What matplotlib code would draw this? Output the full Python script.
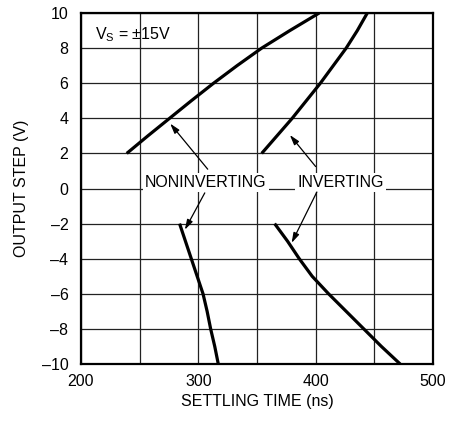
import matplotlib.pyplot as plt
from matplotlib import font_manager

# settling time (ns) vs output step (V)
noninv_pos_t = [239, 257, 275.5, 294, 313, 333, 354, 378, 403]
noninv_pos_v = [2, 3, 4, 5, 6, 7, 8, 9, 10]
noninv_neg_t = [284, 289, 294, 299, 304, 307.5, 310.5, 314, 317]
noninv_neg_v = [-2, -3, -4, -5, -6, -7, -8, -9, -10]
inv_pos_t = [354, 367, 380, 392, 404, 415, 426, 435.5, 444]
inv_pos_v = [2, 3, 4, 5, 6, 7, 8, 9, 10]
inv_neg_t = [365, 376, 386, 397, 411, 426, 441, 456, 472]
inv_neg_v = [-2, -3, -4, -5, -6, -7, -8, -9, -10]

xticks = [200, 300, 400, 500]
yticks = [-10, -8, -6, -4, -2, 0, 2, 4, 6, 8, 10]

names = {f.name for f in font_manager.fontManager.ttflist}
family = 'Liberation Sans Narrow' if 'Liberation Sans Narrow' in names else 'Liberation Sans'
plt.rcParams['font.family'] = [family, 'DejaVu Sans']
plt.rcParams['mathtext.fontset'] = 'custom'
plt.rcParams['mathtext.rm'] = family

fig = plt.figure(figsize=(4.66, 4.21), dpi=100)
ax = fig.add_axes([0.1738, 0.1354, 0.7554, 0.8337])

for t, v in [(noninv_pos_t, noninv_pos_v), (noninv_neg_t, noninv_neg_v),
             (inv_pos_t, inv_pos_v), (inv_neg_t, inv_neg_v)]:
    ax.plot(t, v, color='black', lw=2.3, solid_capstyle='butt', zorder=3)

ax.set_xlim(200, 500)
ax.set_ylim(-10, 10)
ax.set_xticks(range(200, 501, 50))
ax.set_xticklabels([str(x) if x in xticks else '' for x in range(200, 501, 50)])
ax.set_yticks(yticks)
ax.set_yticklabels([str(y).replace('-', '\u2013') for y in yticks])
ax.tick_params(length=0, labelsize=11.5, pad=7)
ax.tick_params(axis='y', pad=9)
ax.grid(True, color='#222222', lw=0.9)
for s in ax.spines.values():
    s.set_linewidth(1.6)

ax.set_xlabel('SETTLING TIME (ns)', fontsize=11.5, labelpad=4)
ax.set_ylabel('OUTPUT STEP (V)', fontsize=11.5, labelpad=9)

ax.text(212, 8.75, r'V$_\mathregular{S}$ = ±15V', fontsize=11.5, va='center', ha='left')

box = dict(facecolor='white', edgecolor='none', pad=1.5)
ax.text(306.5, 0.35, 'NONINVERTING', fontsize=11.5, ha='center', va='center', bbox=box, zorder=4)
ax.text(421, 0.35, 'INVERTING', fontsize=11.5, ha='center', va='center', bbox=box, zorder=4)

arrow = dict(arrowstyle='-|>,head_length=0.6,head_width=0.18', color='black', lw=0.9,
             shrinkA=0, shrinkB=0)
ax.annotate('', xy=(276, 3.7), xytext=(308, 1.1), arrowprops=arrow, zorder=4)
ax.annotate('', xy=(288.5, -2.35), xytext=(305.5, -0.25), arrowprops=arrow, zorder=4)
ax.annotate('', xy=(378, 3.05), xytext=(400, 1.25), arrowprops=arrow, zorder=4)
ax.annotate('', xy=(379.5, -3.1), xytext=(401, -0.2), arrowprops=arrow, zorder=4)

fig.savefig('out.png', dpi=100)
